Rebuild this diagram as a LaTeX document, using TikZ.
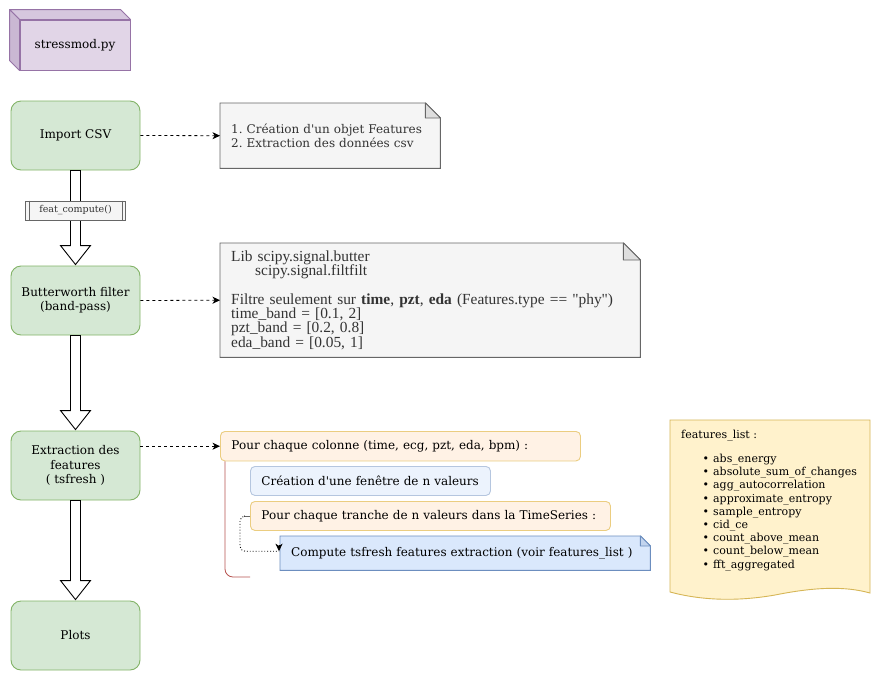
\documentclass[tikz,border=0pt]{standalone}
\usepackage{fontspec}
\setmainfont{DejaVu Serif}[Ligatures=TeXOff]
\newfontfamily\libserif{Liberation Serif}[Ligatures=TeXOff]
\usetikzlibrary{arrows.meta,calc,backgrounds}
\frenchspacing

\definecolor{grfill}{HTML}{D5E8D4}
\definecolor{grline}{HTML}{82B366}
\definecolor{pufill}{HTML}{E1D5E7}
\definecolor{putop}{HTML}{D6C7DE}
\definecolor{puside}{HTML}{CAB8D3}
\definecolor{puline}{HTML}{9673A6}
\definecolor{gyfill}{HTML}{F5F5F5}
\definecolor{gyfold}{HTML}{DEDEDE}
\definecolor{gyline}{HTML}{666666}
\definecolor{gytext}{HTML}{333333}
\definecolor{orfill}{HTML}{FFF2E5}
\definecolor{orline}{HTML}{EBCD80}
\definecolor{blpale}{HTML}{ECF3FD}
\definecolor{blpaleline}{HTML}{B5C6DF}
\definecolor{blfill}{HTML}{DAE8FC}
\definecolor{blfold}{HTML}{C2D4EE}
\definecolor{blline}{HTML}{6C8EBF}
\definecolor{yefill}{HTML}{FFF2CC}
\definecolor{yeline}{HTML}{D6B656}
\definecolor{redline}{HTML}{B85450}

% folded-corner note outline drawn behind a node: node, fold, fill, fold fill, stroke
\newcommand\dogear[5]{%
  \begin{scope}[on background layer]
    \filldraw[fill=#3,draw=#5,line width=0.9pt]
      (#1.north west) -- ([xshift=-#2]#1.north east) -- ([yshift=-#2]#1.north east)
      -- (#1.south east) -- (#1.south west) -- cycle;
    \filldraw[fill=#4,draw=#5,line width=0.9pt,line join=round]
      ([xshift=-#2]#1.north east) -- ([xshift=-#2,yshift=-#2]#1.north east)
      -- ([yshift=-#2]#1.north east) -- cycle;
  \end{scope}}

% hollow block arrow from the bottom of one node to the top of the next
\newcommand\blockarrow[2]{%
  \draw[blockarr] ($(#1.south)+(-5,0)$) -- ($(#2.north)+(-5,-20)$)
    -- ($(#2.north)+(-15,-20)$) -- ($(#2.north)+(0,-1)$)
    -- ($(#2.north)+(15,-20)$) -- ($(#2.north)+(5,-20)$)
    -- ($(#1.south)+(5,0)$) -- cycle;}

\newcommand\fitem[1]{\hspace*{21.5pt}•\hspace{4pt}#1}

\tikzset{
  txt/.style={font=\fontsize{12}{14.2}\selectfont},
  stepbox/.style={txt, draw=grline, fill=grfill, rounded corners=10pt,
    line width=0.9pt, minimum width=129pt, minimum height=69pt, align=center,
    inner sep=2pt},
  blockarr/.style={draw=black, fill=white, line width=0.9pt, line join=miter},
  tip/.style={-{Stealth[length=7.5pt,width=7pt,inset=2.2pt]}},
  callout/.style={tip, dashed, dash pattern=on 3pt off 3pt, line width=0.8pt, black},
  notebox/.style={txt, anchor=north west, text=gytext, align=left,
    inner xsep=11pt, inner ysep=2pt},
  panel/.style={txt, anchor=north west, align=left, rounded corners=4.5pt,
    inner xsep=11pt, inner ysep=2pt, line width=0.9pt},
}

\begin{document}
\begin{tikzpicture}[x=1pt,y=-1pt]
\begin{scope}[on background layer]
  \fill[white] (0,0) rectangle (881,681);
\end{scope}
\useasboundingbox (0,0) rectangle (881,681);

% module cube
\node[txt, draw=puline, fill=pufill, line width=0.9pt, minimum width=110pt,
  minimum height=50pt, inner sep=0pt] (mod) at (75,45) {stressmod.py};
\filldraw[fill=putop, draw=puline, line width=0.9pt, line join=round]
  (mod.north west) -- ++(-10,-10) -- ([xshift=-10pt,yshift=10pt]mod.north east)
  -- (mod.north east) -- cycle;
\filldraw[fill=puside, draw=puline, line width=0.9pt, line join=round]
  (mod.north west) -- ++(-10,-10) -- ([xshift=-10pt,yshift=10pt]mod.south west)
  -- (mod.south west) -- cycle;

% processing steps
\node[stepbox] (imp) at (75.5,135.5) {Import CSV};
\node[stepbox] (bw)  at (75.5,300.5) {Butterworth filter\\(band-pass)};
\node[stepbox] (ext) at (75.5,465.5) {Extraction des\\features\\( tsfresh )};
\node[stepbox] (plt) at (75.5,635.5) {Plots};

\blockarrow{imp}{bw}
\blockarrow{bw}{ext}
\blockarrow{ext}{plt}

\node[font=\fontsize{9.5}{11}\selectfont, text=gytext, draw=gyline, fill=gyfill,
  line width=0.8pt, minimum width=100pt, minimum height=19pt, inner sep=0pt]
  (fc) at (75.5,210.5) {feat\_compute()};
\draw[gyline, line width=0.8pt] ([xshift=4pt]fc.north west) -- ([xshift=4pt]fc.south west)
  ([xshift=-4pt]fc.north east) -- ([xshift=-4pt]fc.south east);

% notes
\node[notebox, text width=198pt, minimum height=65pt] (n1) at (220,103)
  {1. Création d'un objet Features\\2. Extraction des données csv};
\dogear{n1}{15pt}{gyfill}{gyfold}{gyline}

\node[notebox, text width=398pt, minimum height=114pt,
  font=\libserif\fontsize{15.4}{14.3}\selectfont] (n2) at (220,243)
  {Lib scipy.signal.butter\\
   \hspace*{24pt}scipy.signal.filtfilt\\
   \mbox{}\\
   Filtre seulement sur \textbf{time}, \textbf{pzt}, \textbf{eda} (Features.type == "phy")\\
   time\_band = [0.1, 2]\\
   pzt\_band = [0.2, 0.8]\\
   eda\_band = [0.05, 1]};
\dogear{n2}{17pt}{gyfill}{gyfold}{gyline}

\draw[callout] (imp.east) -- (n1.west);
\draw[callout] (bw.east) -- (n2.west);

% tsfresh loop
\node[panel, draw=orline, fill=orfill, text width=338pt, minimum height=29.5pt]
  (col) at (220,431) {Pour chaque colonne (time, ecg, pzt, eda, bpm) :};
\node[panel, draw=blpaleline, fill=blpale, text width=218pt, minimum height=29pt]
  (win) at (250,466) {Création d'une fenêtre de n valeurs};
\node[panel, draw=orline, fill=orfill, text width=338pt, minimum height=29pt]
  (tr) at (250,501) {Pour chaque tranche de n valeurs dans la TimeSeries :};
\node[notebox, text=black, text width=348pt, minimum height=34pt] (cmp) at (280,536)
  {Compute tsfresh features extraction (voir features\_list )};
\dogear{cmp}{10pt}{blfill}{blfold}{blline}

\draw[callout] (col.west -| ext.east) -- (col.west);

\coordinate (redend) at (250,577);
\draw[redline, line width=0.8pt, rounded corners=8pt] ([xshift=5pt]col.south west) |- (redend);

\coordinate (cmpin) at ([xshift=-1pt,yshift=2pt]cmp.west);
\draw[gyline, line width=0.9pt] (tr.west) -- ++(-6,0);
\draw[black, dotted, line width=0.9pt, rounded corners=5pt] ([xshift=-6pt]tr.west) -- ++(-4,0) |- (cmpin);
\draw[tip, line width=0.8pt] ([yshift=6pt]cmpin) -- (cmpin);

% feature list document
\filldraw[fill=yefill, draw=yeline, line width=0.9pt]
  (670,420) -- (870,420) -- (870,593)
  .. controls (845,586) and (815,587) .. (775,595)
  .. controls (735,602) and (700,600) .. (670,592) -- cycle;
\node[anchor=north west, inner sep=0pt, align=left,
  font=\fontsize{11}{13.2}\selectfont] (fl) at (681,430)
  {features\_list :\\[10.8pt]
   \fitem{abs\_energy}\\
   \fitem{absolute\_sum\_of\_changes}\\
   \fitem{agg\_autocorrelation}\\
   \fitem{approximate\_entropy}\\
   \fitem{sample\_entropy}\\
   \fitem{cid\_ce}\\
   \fitem{count\_above\_mean}\\
   \fitem{count\_below\_mean}\\
   \fitem{fft\_aggregated}};
\end{tikzpicture}
\end{document}
